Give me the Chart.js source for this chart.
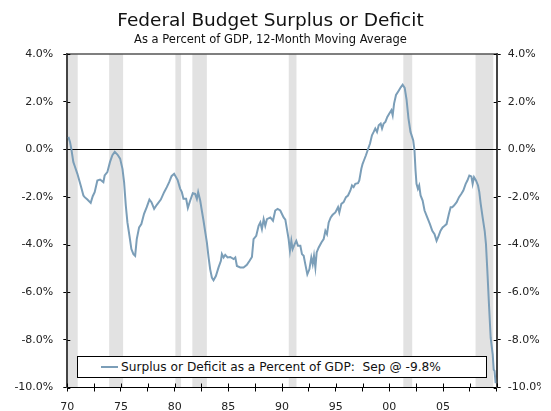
<!DOCTYPE html>
<html>
<head>
<meta charset="utf-8">
<title>Federal Budget Surplus or Deficit</title>
<script src="https://cdn.jsdelivr.net/npm/chart.js@4.4.1/dist/chart.umd.min.js"></script>
<style>
  html, body { margin: 0; padding: 0; background: #fff; }
  #wrap { position: relative; width: 551px; height: 411px; }
  #legend {
    position: absolute; left: 77px; top: 356px; width: 385px; height: 20px;
    border: 1px solid #000; background: #fff;
    display: flex; align-items: center; padding-left: 23px; box-sizing: content-box;
    font: 12.2px "DejaVu Sans", Verdana, sans-serif; color: #111; white-space: pre;
  }
  #legend .swatch { width: 17px; height: 2px; margin-right: 3px; }
</style>
</head>
<body>
<div id="wrap">
  <canvas id="deficitChart" width="551" height="411"></canvas>
  <div id="legend"></div>
</div>
<script>
"use strict";

// DATA -----------------------
// decimal year / percent of GDP
const years = [
  1970.10, 1970.25, 1970.38, 1970.56, 1970.69, 1970.94, 1971.25, 1971.50, 1971.62, 1971.87,
  1972.18, 1972.37, 1972.55, 1972.80, 1973.05, 1973.36, 1973.48, 1973.73, 1973.98, 1974.20,
  1974.42, 1974.67, 1974.92, 1975.14, 1975.29, 1975.45, 1975.60, 1975.79, 1975.97, 1976.16,
  1976.32, 1976.47, 1976.69, 1976.90, 1977.15, 1977.40, 1977.65, 1977.84, 1978.09, 1978.34,
  1978.71, 1979.02, 1979.27, 1979.49, 1979.71, 1979.95, 1980.27, 1980.51, 1980.67, 1980.82,
  1981.07, 1981.23, 1981.45, 1981.69, 1981.91, 1982.07, 1982.19, 1982.38, 1982.53, 1982.69,
  1982.88, 1983.00, 1983.16, 1983.31, 1983.47, 1983.62, 1983.84, 1984.09, 1984.31, 1984.40,
  1984.56, 1984.71, 1984.93, 1985.18, 1985.49, 1985.65, 1985.80, 1986.11, 1986.42, 1986.73,
  1986.98, 1987.20, 1987.35, 1987.60, 1987.82, 1987.98, 1988.13, 1988.29, 1988.44, 1988.60,
  1988.91, 1989.16, 1989.37, 1989.59, 1989.84, 1990.15, 1990.31, 1990.46, 1990.62, 1990.74,
  1990.87, 1990.99, 1991.18, 1991.33, 1991.49, 1991.71, 1991.86, 1992.02, 1992.17, 1992.36,
  1992.55, 1992.73, 1992.86, 1992.98, 1993.11, 1993.23, 1993.42, 1993.67, 1993.88, 1994.04,
  1994.19, 1994.35, 1994.54, 1994.72, 1994.97, 1995.22, 1995.34, 1995.53, 1995.74, 1995.96,
  1996.15, 1996.37, 1996.52, 1996.67, 1996.83, 1997.08, 1997.20, 1997.39, 1997.51, 1997.64,
  1997.82, 1998.01, 1998.20, 1998.38, 1998.54, 1998.69, 1998.85, 1999.01, 1999.19, 1999.32,
  1999.47, 1999.63, 1999.81, 2000.00, 2000.19, 2000.31, 2000.44, 2000.62, 2000.87, 2001.06,
  2001.24, 2001.43, 2001.60, 2001.78, 2001.97, 2002.22, 2002.34, 2002.44, 2002.53, 2002.66,
  2002.78, 2002.91, 2003.10, 2003.28, 2003.53, 2003.78, 2004.00, 2004.21, 2004.40, 2004.59,
  2004.77, 2004.96, 2005.15, 2005.33, 2005.55, 2005.71, 2005.86, 2006.02, 2006.27, 2006.49,
  2006.71, 2006.89, 2007.11, 2007.27, 2007.45, 2007.64, 2007.76, 2007.89, 2008.07, 2008.26,
  2008.38, 2008.51, 2008.69, 2008.88, 2009.00, 2009.13, 2009.28, 2009.44, 2009.63, 2009.72,
  2009.80, 2009.90
];
const deficit = [
   0.52,  0.31,  0.00, -0.53, -0.70, -1.03, -1.52, -1.94, -2.01, -2.11,
  -2.25, -1.97, -1.80, -1.31, -1.27, -1.38, -1.10, -0.96, -0.53, -0.25,
  -0.11, -0.22, -0.39, -0.82, -1.38, -2.36, -3.07, -3.63, -4.19, -4.40,
  -4.47, -3.77, -3.28, -3.14, -2.71, -2.43, -2.11, -2.22, -2.50, -2.33,
  -2.11, -1.80, -1.59, -1.38, -1.13, -1.03, -1.28, -1.65, -1.80, -2.08,
  -2.08, -2.46, -2.15, -1.84, -1.87, -2.08, -1.80, -2.15, -2.57, -3.00,
  -3.56, -3.91, -4.54, -5.04, -5.39, -5.50, -5.32, -4.96, -4.68, -4.40,
  -4.54, -4.43, -4.54, -4.52, -4.61, -4.54, -4.90, -4.96, -4.96, -4.85,
  -4.68, -4.52, -3.77, -3.63, -3.21, -3.07, -3.35, -2.93, -3.21, -2.93,
  -2.86, -3.00, -2.57, -2.50, -2.57, -2.86, -2.95, -3.35, -3.78, -4.26,
  -3.84, -4.19, -3.98, -3.84, -4.05, -4.05, -4.40, -4.47, -4.82, -5.25,
  -5.04, -4.54, -4.82, -4.47, -4.96, -4.33, -4.12, -3.91, -3.77, -3.42,
  -3.56, -3.07, -2.86, -2.75, -2.65, -2.43, -2.65, -2.29, -2.22, -2.01,
  -1.94, -1.73, -1.52, -1.59, -1.45, -1.42, -1.31, -0.82, -0.61, -0.46,
  -0.25,  0.00,  0.24,  0.59,  0.73,  0.87,  0.73,  1.01,  1.08,  0.87,
   1.08,  1.15,  1.36,  1.50,  1.64,  1.43,  1.92,  2.28,  2.46,  2.60,
   2.71,  2.58,  2.10,  1.30,  0.73,  0.38, -0.04, -0.89, -1.45, -1.66,
  -1.52, -1.94, -2.15, -2.57, -2.86, -3.14, -3.42, -3.56, -3.84, -3.63,
  -3.42, -3.28, -3.21, -3.14, -2.71, -2.43, -2.43, -2.36, -2.22, -2.01,
  -1.87, -1.73, -1.45, -1.31, -1.10, -1.14, -1.45, -1.17, -1.31, -1.52,
  -1.80, -2.29, -2.86, -3.42, -3.98, -5.11, -6.51, -7.92, -8.62, -9.25,
  -9.30, -9.82
];

// shaded recessions
const recessionStart = [1969.9, 1973.90, 1980.07, 1981.65, 1990.63, 2001.30, 2008.03];
const recessionEnd   = [1970.97, 1975.20, 1980.60, 1983.00, 1991.35, 2002.13, 2009.68];

const yTicks = [-10, -8, -6, -4, -2, 0, 2, 4];

const seriesLabel = 'Surplus or Deficit as a Percent of GDP:  Sep @ -9.8%';
const lineColor = '#7b9eb8';
const fontFamily = '"DejaVu Sans", Verdana, sans-serif';

// PLUGINS -----------------------
const recessionBands = {
  id: 'recessionBands',
  beforeDraw(chart) {
    const { ctx, chartArea: a, scales: { x } } = chart;
    ctx.save();
    ctx.beginPath();
    ctx.rect(a.left, a.top, a.right - a.left, a.bottom - a.top);
    ctx.clip();
    ctx.fillStyle = '#e2e2e2';
    for (let i = 0; i < recessionStart.length; i++) {
      const x0 = x.getPixelForValue(recessionStart[i]);
      const x1 = x.getPixelForValue(recessionEnd[i]);
      ctx.fillRect(x0, a.top, x1 - x0, a.bottom - a.top);
    }
    ctx.restore();
  }
};

// top frame line + tick marks reaching into the plot
const frameTicks = {
  id: 'frameTicks',
  afterDraw(chart) {
    const { ctx, chartArea: a, scales: { x, y } } = chart;
    ctx.save();
    ctx.strokeStyle = '#555';
    ctx.lineWidth = 1.5;
    ctx.beginPath();
    ctx.moveTo(a.left, a.top);
    ctx.lineTo(a.right, a.top);
    ctx.stroke();

    ctx.strokeStyle = '#000';
    ctx.lineWidth = 1;
    ctx.beginPath();
    yTicks.forEach(v => {
      const py = Math.round(y.getPixelForValue(v)) + 0.5;
      ctx.moveTo(a.left, py); ctx.lineTo(a.left + 3, py);
      ctx.moveTo(a.right - 3, py); ctx.lineTo(a.right, py);
    });
    x.ticks.forEach(t => {
      const px = Math.round(x.getPixelForValue(t.value)) + 0.5;
      ctx.moveTo(px, a.bottom); ctx.lineTo(px, a.bottom - 4);
    });
    ctx.stroke();
    ctx.restore();
  }
};

// CHART -----------------------
Chart.defaults.font.family = fontFamily;
Chart.defaults.color = '#222';

const yTickOpts = {
  stepSize: 2,
  font: { size: 11 },
  color: '#222',
  callback: v => v.toFixed(1) + '%'
};

const deficitChart = new Chart(document.getElementById('deficitChart'), {
  type: 'line',
  data: {
    datasets: [{
      label: seriesLabel,
      data: years.map((yr, i) => ({ x: yr, y: deficit[i] })),
      borderColor: lineColor,
      borderWidth: 2,
      pointRadius: 0,
      tension: 0
    }]
  },
  options: {
    responsive: false,
    animation: false,
    devicePixelRatio: 1,
    layout: { padding: { top: 0, left: 0, right: 10, bottom: 0 } },
    plugins: {
      legend: { display: false },
      tooltip: { enabled: false },
      title: {
        display: true,
        text: 'Federal Budget Surplus or Deficit',
        color: '#111',
        font: { size: 18.5, weight: 'normal' },
        padding: { top: 10, bottom: 0 }
      },
      subtitle: {
        display: true,
        text: 'As a Percent of GDP, 12-Month Moving Average',
        color: '#111',
        font: { size: 11.5, weight: 'normal' },
        padding: { top: 0.7, bottom: 7.3 }
      }
    },
    scales: {
      x: {
        type: 'linear',
        min: 1970,
        max: 2010,
        ticks: {
          stepSize: 2.5,
          autoSkip: false,
          maxRotation: 0,
          padding: 9,
          font: { size: 11 },
          color: '#222',
          callback: v => (v % 5 === 0 && v < 2010) ? String(v).slice(2) : ''
        },
        grid: { drawOnChartArea: false, tickLength: 4, tickColor: '#000' },
        border: { color: '#000', width: 1 },
        afterFit: s => { s.height = 23.5; }
      },
      y: {
        position: 'left',
        min: -10,
        max: 4,
        ticks: Object.assign({ padding: 10 }, yTickOpts),
        grid: {
          color: c => (c.tick && c.tick.value === 0) ? '#000' : 'rgba(0,0,0,0)',
          tickColor: '#000',
          tickLength: 4
        },
        border: { color: '#444', width: 2 },
        afterFit: s => { s.width = 67.3; }
      },
      y2: {
        position: 'right',
        min: -10,
        max: 4,
        ticks: Object.assign({ padding: 7 }, yTickOpts),
        grid: { drawOnChartArea: false, tickColor: '#000', tickLength: 4 },
        border: { color: '#444', width: 2 },
        afterFit: s => { s.width = 44.3; }
      }
    }
  },
  plugins: [recessionBands, frameTicks]
});

// LEGEND -----------------------
function buildLegend(chart) {
  const box = document.getElementById('legend');
  chart.data.datasets.forEach(ds => {
    const sw = document.createElement('span');
    sw.className = 'swatch';
    sw.style.background = ds.borderColor;
    const txt = document.createElement('span');
    txt.textContent = ds.label;
    box.appendChild(sw);
    box.appendChild(txt);
  });
}
buildLegend(deficitChart);
</script>
</body>
</html>
